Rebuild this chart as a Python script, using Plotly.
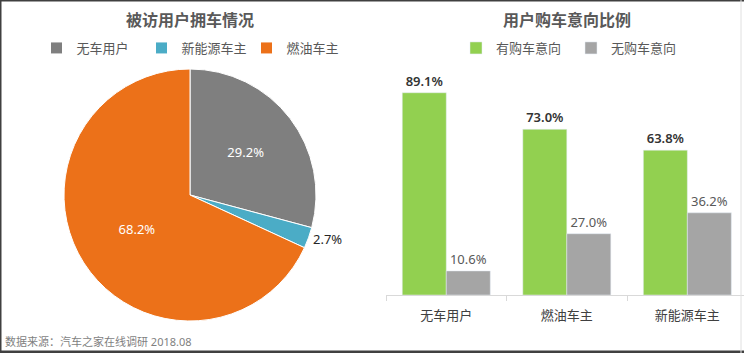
import plotly.graph_objects as go

W, H = 744, 353

# ---- data ----
pie_labels = ["无车用户", "新能源车主", "燃油车主"]
pie_values = [29.2, 2.7, 68.2]
pie_colors = ["#7F7F7F", "#4BACC6", "#EC7119"]

bar_categories = ["无车用户", "燃油车主", "新能源车主"]
intent_yes = [89.1, 73.0, 63.8]
intent_no = [10.6, 27.0, 36.2]
series_names = ["有购车意向", "无购车意向"]

title_left = "被访用户拥车情况"
title_right = "用户购车意向比例"
source_text = "数据来源：汽车之家在线调研 2018.08"

FONT = "Noto Sans, Noto Sans CJK SC, sans-serif"

def px_x(x):
    return x / W

def px_y(y):
    return 1 - y / H

fig = go.Figure()

fig.add_trace(go.Pie(
    labels=pie_labels,
    values=pie_values,
    marker=dict(colors=pie_colors, line=dict(color="white", width=1)),
    sort=False,
    direction="clockwise",
    rotation=0,
    texttemplate="%{value:.1f}%",
    textposition=["inside", "outside", "inside"],
    insidetextfont=dict(color="white", size=13, family=FONT),
    outsidetextfont=dict(color="#262626", size=13, family=FONT),
    insidetextorientation="horizontal",
    domain=dict(x=[px_x(64), px_x(316)], y=[px_y(321), px_y(69)]),
    legend="legend",
    hoverinfo="label+percent",
))

fig.add_trace(go.Bar(
    x=bar_categories, y=intent_yes, name=series_names[0],
    marker=dict(color="#92D050"),
    texttemplate="%{y:.1f}%", textposition="outside",
    outsidetextfont=dict(color="#333333", size=13, family=FONT, weight=600),
    cliponaxis=False,
    legend="legend2",
))
fig.add_trace(go.Bar(
    x=bar_categories, y=intent_no, name=series_names[1],
    marker=dict(color="#A5A5A5"),
    texttemplate="%{y:.1f}%", textposition="outside",
    outsidetextfont=dict(color="#595959", size=13, family=FONT),
    cliponaxis=False,
    legend="legend2",
))

fig.update_layout(
    width=W, height=H,
    margin=dict(l=0, r=0, t=0, b=0),
    paper_bgcolor="white", plot_bgcolor="white",
    font=dict(family=FONT, color="#595959"),
    barmode="group", bargap=0.27, bargroupgap=0,
    xaxis=dict(
        domain=[px_x(386), 1.0], range=[-0.5, 2.47],
        showline=True, linecolor="#D9D9D9", linewidth=1,
        ticks="outside", tickson="boundaries", ticklen=5, tickcolor="#D9D9D9",
        tickfont=dict(size=13, color="#404040", family=FONT),
        ticklabelstandoff=8,
        showgrid=False, zeroline=False, fixedrange=True,
    ),
    yaxis=dict(
        domain=[px_y(295), px_y(68)], range=[0, 100],
        visible=False, fixedrange=True,
    ),
    legend=dict(
        orientation="h", x=px_x(194), xanchor="center", y=px_y(48), yanchor="middle",
        font=dict(size=13, color="#595959", family=FONT),
        itemwidth=30, entrywidth=60, bgcolor="rgba(0,0,0,0)",
    ),
    legend2=dict(
        orientation="h", x=px_x(571), xanchor="center", y=px_y(48), yanchor="middle",
        font=dict(size=13, color="#595959", family=FONT),
        itemwidth=30, entrywidth=70, bgcolor="rgba(0,0,0,0)",
    ),
    annotations=[
        dict(text=title_left, x=px_x(190), y=px_y(20), xref="paper", yref="paper",
             showarrow=False, xanchor="center", yanchor="middle",
             font=dict(size=16, color="#595959", family=FONT, weight="bold")),
        dict(text=title_right, x=px_x(567), y=px_y(20), xref="paper", yref="paper",
             showarrow=False, xanchor="center", yanchor="middle",
             font=dict(size=16, color="#595959", family=FONT, weight="bold")),
        dict(text=source_text, x=px_x(3), y=px_y(341), xref="paper", yref="paper",
             showarrow=False, xanchor="left", yanchor="middle",
             font=dict(size=11, color="#7F7F7F", family=FONT)),
    ],
    shapes=[
        dict(type="line", xref="paper", yref="paper", x0=0, x1=0, y0=0, y1=1,
             line=dict(color="#404040", width=3)),
        dict(type="line", xref="paper", yref="paper", x0=0, x1=1, y0=1, y1=1,
             line=dict(color="#404040", width=3)),
        dict(type="line", xref="paper", yref="paper", x0=0, x1=1, y0=px_y(352), y1=px_y(352),
             line=dict(color="#404040", width=3)),
        dict(type="line", xref="paper", yref="paper", x0=px_x(741), x1=px_x(741), y0=0, y1=1,
             line=dict(color="#E0E0E0", width=1)),
    ],
)

fig.write_html("out.html")
